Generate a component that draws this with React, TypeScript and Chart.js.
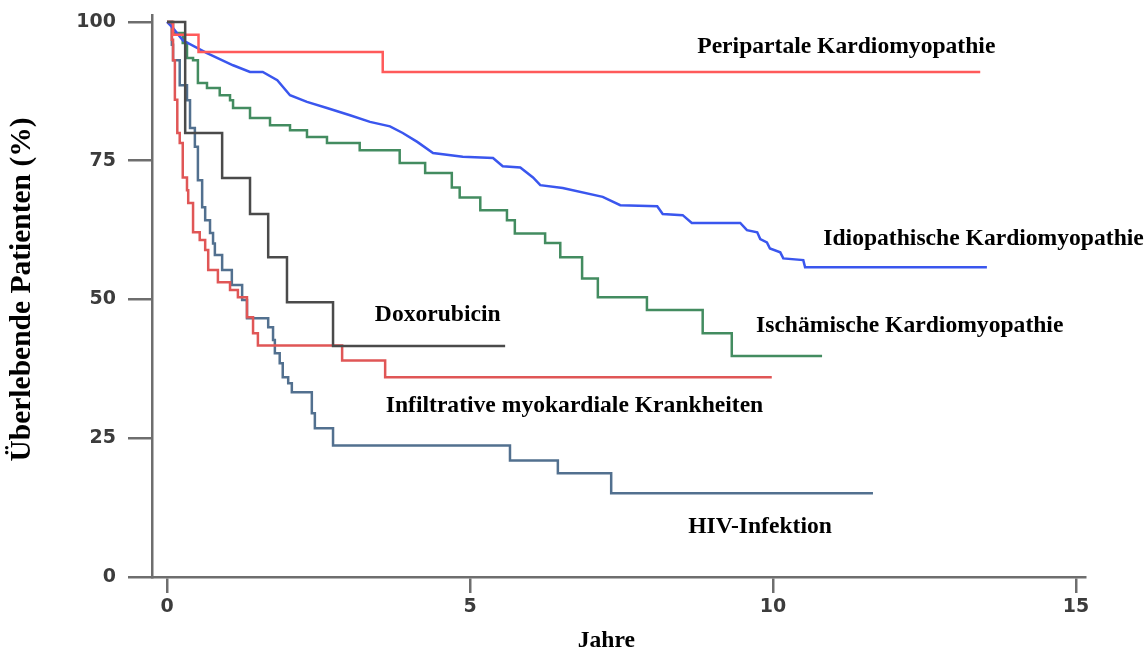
import React, { useEffect, useRef } from 'react';
import { Chart, registerables } from 'chart.js';

Chart.register(...registerables);

// ---- Data (years since diagnosis, survival %) ----
const periYears = [0, 0.1, 0.52, 3.56, 13.42];
const periSurv = [100, 97.7, 94.6, 91.0, 91.0];

const idioYears = [0, 0.10, 0.26, 0.66, 1.09, 1.37, 1.58, 1.82, 2.03, 2.31, 2.64, 3.02, 3.35, 3.68, 3.89, 4.13, 4.39, 4.88, 5.38, 5.54, 5.83, 6.04, 6.16, 6.53, 7.19, 7.48, 8.09, 8.18, 8.51, 8.66, 9.46, 9.57, 9.74, 9.79, 9.90, 9.95, 10.12, 10.17, 10.50, 10.53, 13.53];
const idioSurv = [100, 98.9, 96.7, 94.4, 92.2, 91.0, 91.0, 89.5, 86.8, 85.6, 84.5, 83.2, 82.0, 81.2, 80.0, 78.4, 76.4, 75.7, 75.5, 74.0, 73.8, 72.0, 70.6, 70.1, 68.5, 67.0, 66.8, 65.4, 65.2, 63.8, 63.8, 62.5, 62.1, 60.9, 60.3, 59.2, 58.5, 57.4, 57.1, 55.8, 55.8];

const ischYears = [0, 0.10, 0.26, 0.33, 0.43, 0.51, 0.66, 0.87, 1.04, 1.09, 1.37, 1.70, 2.03, 2.31, 2.64, 3.18, 3.84, 4.26, 4.70, 4.83, 5.17, 5.61, 5.74, 6.24, 6.49, 6.85, 7.11, 7.92, 8.84, 9.32, 10.81];
const ischSurv = [100, 98.0, 96.2, 93.5, 93.1, 89.0, 88.1, 86.8, 85.9, 84.5, 82.7, 81.4, 80.5, 79.3, 78.2, 76.9, 74.6, 72.8, 70.2, 68.4, 66.1, 64.3, 61.9, 60.2, 57.6, 53.8, 50.4, 48.1, 43.9, 39.8, 39.8];

const doxoYears = [0, 0.30, 0.91, 1.37, 1.67, 1.98, 2.74, 5.58];
const doxoSurv = [100, 80.0, 71.9, 65.4, 57.6, 49.5, 41.6, 41.6];

const infYears = [0, 0.08, 0.10, 0.13, 0.17, 0.21, 0.26, 0.33, 0.35, 0.43, 0.54, 0.63, 0.68, 0.84, 1.04, 1.17, 1.32, 1.42, 1.50, 2.89, 3.60, 9.98];
const infSurv = [100, 96.8, 93.1, 86.0, 80.0, 78.2, 72.0, 69.7, 67.4, 62.1, 60.7, 58.9, 55.3, 53.1, 51.7, 50.4, 46.8, 43.9, 41.7, 39.0, 36.0, 36.0];

const hivYears = [0, 0.08, 0.10, 0.21, 0.33, 0.38, 0.46, 0.51, 0.58, 0.63, 0.71, 0.76, 0.79, 0.91, 1.07, 1.24, 1.32, 1.67, 1.75, 1.78, 1.86, 1.91, 2.00, 2.06, 2.39, 2.44, 2.74, 5.66, 6.45, 7.33, 11.65];
const hivSurv = [100, 95.9, 93.1, 88.6, 85.9, 80.9, 77.5, 71.5, 66.6, 64.3, 62.0, 60.1, 58.0, 55.3, 52.6, 49.9, 46.6, 45.0, 42.7, 40.3, 38.5, 36.0, 34.9, 33.3, 29.5, 26.8, 23.7, 21.0, 18.7, 15.1, 15.1];

const curveLabels = [
  'Peripartale Kardiomyopathie',
  'Idiopathische Kardiomyopathie',
  'Ischämische Kardiomyopathie',
  'Doxorubicin',
  'Infiltrative myokardiale Krankheiten',
  'HIV-Infektion',
];
const labelYears = [8.75, 10.83, 9.72, 3.43, 3.61, 8.6];
const labelSurv = [95.5, 60.9, 45.2, 47.2, 30.9, 9.1];

const xTitle = 'Jahre';
const yTitle = 'Überlebende Patienten (%)';

const toPts = (xs: number[], ys: number[]) => xs.map((x, i) => ({ x, y: ys[i] }));

const labelPlugin = {
  id: 'curveLabels',
  afterDatasetsDraw(chart: any) {
    const { ctx, scales, chartArea } = chart;
    const xs = scales.x;
    const ys = scales.y;
    ctx.save();
    ctx.fillStyle = '#000';
    ctx.font = 'bold 23.6px "Liberation Serif"';
    ctx.textBaseline = 'middle';
    ctx.textAlign = 'left';
    curveLabels.forEach((t, i) => {
      ctx.fillText(t, xs.getPixelForValue(labelYears[i]), ys.getPixelForValue(labelSurv[i]));
    });
    ctx.textAlign = 'center';
    ctx.fillText(xTitle, xs.getPixelForValue(7.25), chartArea.bottom + 64);
    ctx.translate(22, ys.getPixelForValue(51.8));
    ctx.rotate(-Math.PI / 2);
    ctx.font = 'bold 29.5px "Liberation Serif"';
    ctx.fillText(yTitle, 0, 0);
    ctx.restore();
  },
};

export default function App() {
  const ref = useRef<HTMLCanvasElement>(null);
  useEffect(() => {
    const mk = (label: string, xs: number[], ys: number[], color: string, stepped: boolean) => ({
      label,
      data: toPts(xs, ys),
      borderColor: color,
      backgroundColor: color,
      borderWidth: 2.5,
      pointRadius: 0,
      stepped: stepped ? 'before' : false,
      tension: 0,
      fill: false,
    });
    const chart = new Chart(ref.current as HTMLCanvasElement, {
      type: 'line',
      data: {
        datasets: [
          mk('Doxorubicin', doxoYears, doxoSurv, '#4a4a4a', true),
          mk('Peripartale Kardiomyopathie', periYears, periSurv, '#ff5a5a', true),
          mk('Idiopathische Kardiomyopathie', idioYears, idioSurv, '#3a56ee', false),
          mk('Ischämische Kardiomyopathie', ischYears, ischSurv, '#438c60', true),
          mk('Infiltrative myokardiale Krankheiten', infYears, infSurv, '#e05656', true),
          mk('HIV-Infektion', hivYears, hivSurv, '#52708f', true),
        ] as any,
      },
      options: {
        animation: false,
        responsive: true,
        maintainAspectRatio: false,
        layout: { padding: { top: 15, right: 62, left: 0, bottom: 0 } },
        plugins: { legend: { display: false }, tooltip: { enabled: false } },
        scales: {
          x: {
            type: 'linear',
            min: -0.2475,
            max: 15.149,
            afterFit: (s: any) => { s.height = 89; s.paddingLeft = 0; s.paddingRight = 0; },
            grid: { display: true, drawOnChartArea: false, drawTicks: true, tickLength: 16, color: '#6e6e6e', lineWidth: 2.5 },
            border: { display: true, color: '#6e6e6e', width: 2.5 },
            ticks: {
              stepSize: 5,
              includeBounds: false,
              autoSkip: false,
              maxRotation: 0,
              padding: 3,
              color: '#3c3c3c',
              font: { family: 'DejaVu Sans', size: 19, weight: 'bold' },
            },
            title: { display: false, text: xTitle },
          },
          y: {
            type: 'linear',
            min: 0,
            max: 101.26,
            afterFit: (s: any) => { s.width = 152; s.paddingTop = 0; s.paddingBottom = 0; },
            grid: { display: true, drawOnChartArea: false, drawTicks: true, tickLength: 24, color: '#6e6e6e', lineWidth: 2.5 },
            border: { display: true, color: '#6e6e6e', width: 2.5 },
            ticks: {
              stepSize: 25,
              includeBounds: false,
              autoSkip: false,
              padding: 12,
              color: '#3c3c3c',
              font: { family: 'DejaVu Sans', size: 19, weight: 'bold' },
            },
            title: { display: false, text: yTitle },
          },
        },
      },
      plugins: [labelPlugin],
    } as any);
    return () => chart.destroy();
  }, []);
  return (
    <div style={{ position: 'fixed', left: 0, top: 0, width: 1147, height: 666, background: '#fff' }}>
      <canvas ref={ref} />
    </div>
  );
}
